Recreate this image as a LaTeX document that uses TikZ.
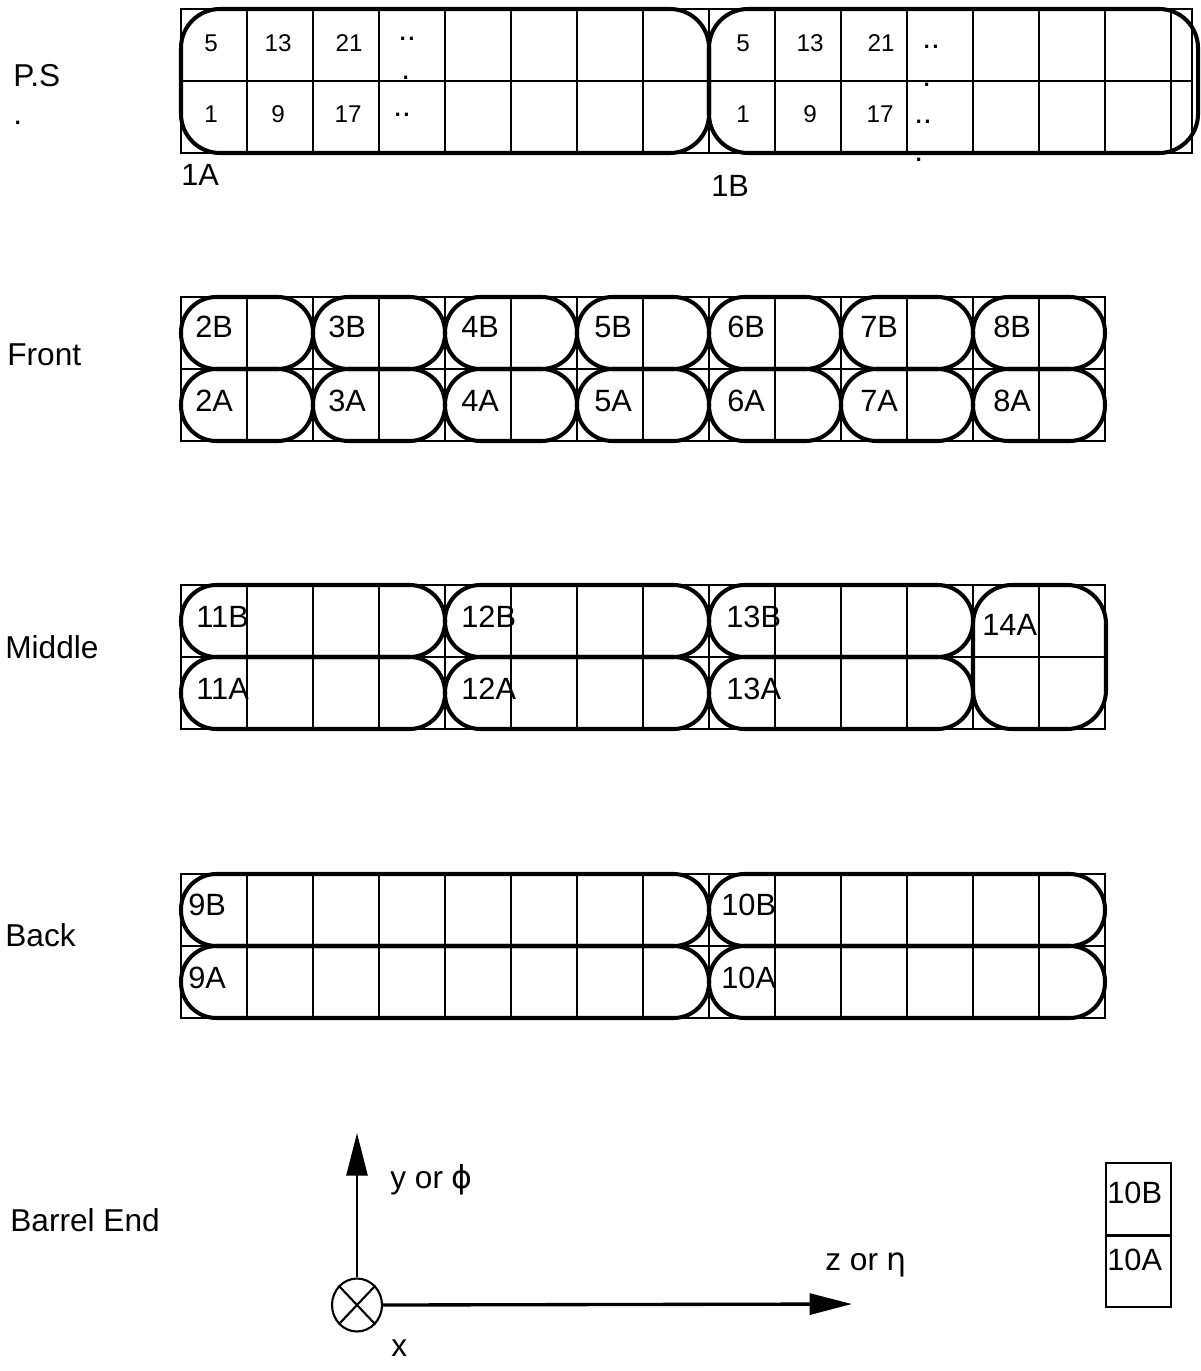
\documentclass[tikz,border=0pt]{standalone}
\usepackage{fontspec}
\setmainfont{Liberation Sans}
\newfontfamily\greekfont{DejaVu Sans}
\usetikzlibrary{arrows.meta, positioning, shapes.geometric}
\tikzset{
  gridthin/.style={line width=0.9pt},
  gridthick/.style={line width=1.5pt},
  modbox/.style={line width=2.3pt, rounded corners=0.71cm},
  psbox/.style={line width=2.3pt, rounded corners=0.78cm},
  rowlabel/.style={anchor=base west, inner sep=0pt, font=\fontsize{18}{21}\selectfont},
  modlabel/.style={anchor=base west, inner sep=0pt, font=\fontsize{17.5}{21}\selectfont},
  cellnum/.style={anchor=base, inner sep=0pt, font=\fontsize{13.8}{16}\selectfont},
  dotmark/.style={anchor=base west, inner sep=0pt, font=\fontsize{18}{21}\selectfont},
  axisarr/.style={-{Triangle[length=0.85cm, width=0.42cm]}},
  axislabel/.style={anchor=base west, inner sep=0pt, font=\fontsize{18}{21}\selectfont},
}

\begin{document}
\begin{tikzpicture}[x=0.02cm, y=-0.02cm]
  \useasboundingbox (0,0) rectangle (1200,1371);

  \node[rowlabel] (ps) at (13,87) {P.S};
  \node[rowlabel] (psdot) at (13,125) {.};
  \node[rowlabel] (front) at (7,366) {Front};
  \node[rowlabel] (middle) at (5,658) {Middle};
  \node[rowlabel] (back) at (5,946) {Back};
  \node[rowlabel] (barrel) at (10,1231) {Barrel End};

  \draw[gridthin] (181,9) rectangle (1192,153) (709,9) -- (709,153);
  \draw[gridthick] (181,81) -- (1192,81);
  \foreach \i in {1,2,3,4,5,6,7,9,10,11,12,13,14,15}
    \draw[gridthick] (181+66*\i,9) -- ++(0,144);
  \draw[psbox] (181,9) rectangle (709,153);
  \draw[psbox] (709,9) rectangle (1198,153);

  \foreach \blk/\bx in {A/0, B/532} {
    \foreach \n/\cx in {5/211, 13/278, 21/349}
      \node[cellnum] (c\blk\n) at (\cx+\bx,52) {\n};
    \foreach \n/\cx in {1/211, 9/278, 17/348}
      \node[cellnum] (c\blk\n) at (\cx+\bx,123) {\n};
  }
  \node[dotmark] (dA1) at (398,41) {..};
  \node[dotmark] (dA2) at (401,80) {.};
  \node[dotmark] (dA3) at (393,117) {..};
  \node[dotmark] (dB1) at (922,49) {..};
  \node[dotmark] (dB2) at (922,87) {.};
  \node[dotmark] (dB3) at (914,124) {..};
  \node[dotmark] (dB4) at (914,162) {.};
  \node[modlabel] (l1a) at (181,186) {1A};
  \node[modlabel] (l1b) at (711,197) {1B};

  \foreach \ty/\thin/\thick in {297/{2,4,6,8,10,12}/{1,3,5,7,9,11,13},
      585/{4,8,12}/{1,2,3,5,6,7,9,10,11,13},
      874/{8}/{1,2,3,4,5,6,7,9,10,11,12,13}} {
    \draw[gridthin] (181,\ty) rectangle (1105,\ty+144);
    \foreach \i in \thin \draw[gridthin] (181+66*\i,\ty) -- ++(0,144);
    \foreach \i in \thick \draw[gridthick] (181+66*\i,\ty) -- ++(0,144);
    \draw[gridthick] (181,\ty+72) -- (1105,\ty+72);
  }

  \foreach \k in {0,...,6} {
    \pgfmathtruncatemacro\n{\k+2}
    \draw[modbox] (181+132*\k,297) rectangle ++(132,72);
    \draw[modbox] (181+132*\k,369) rectangle ++(132,72);
    \node[modlabel] (f\n b) at (195+133*\k,338) {\n B};
    \node[modlabel] (f\n a) at (195+133*\k,411) {\n A};
  }

  \foreach \k/\n in {0/11, 1/12, 2/13} {
    \draw[modbox] (181+264*\k,585) rectangle ++(264,72);
    \draw[modbox] (181+264*\k,657) rectangle ++(264,72);
    \node[modlabel] (m\n b) at (196+265*\k,627) {\n B};
    \node[modlabel] (m\n a) at (196+265*\k,699) {\n A};
  }
  \draw[psbox] (973,585) rectangle (1106,729);
  \node[modlabel] (m14a) at (982,635) {14A};

  \foreach \x/\w/\n/\lx in {181/528/9/188, 709/396/10/721} {
    \draw[modbox] (\x,874) rectangle ++(\w,72);
    \draw[modbox] (\x,946) rectangle ++(\w,72);
    \node[modlabel] (b\n b) at (\lx,915) {\n B};
    \node[modlabel] (b\n a) at (\lx,988) {\n A};
  }

  \node[draw, ellipse, line width=1.2pt, minimum width=1cm, minimum height=1.06cm,
        inner sep=0pt] (orig) at (357,1305) {};
  \draw[line width=1.2pt] (orig.north west) -- (orig.south east)
    (orig.north east) -- (orig.south west);
  \coordinate (ytip) at (357,1133);
  \coordinate (ztip) at (852,1304);
  \draw[axisarr, line width=1.4pt] (orig.north) -- (ytip);
  \draw[axisarr, line width=1.9pt] (orig.east) -- (ztip);
  \node[axislabel] (ylab) at (390,1188) {y or {\greekfont ϕ}};
  \node[axislabel] (zlab) at (825,1270) {z or {\greekfont η}};
  \node[axislabel] (xlab) at (391,1356) {x};

  \draw[line width=1.2pt] (1106,1163) rectangle (1171,1307);
  \draw[line width=1.7pt] (1106,1235) -- (1171,1235);
  \node[modlabel] (k10b) at (1107,1203) {10B};
  \node[modlabel] (k10a) at (1107,1270) {10A};
\end{tikzpicture}
\end{document}
